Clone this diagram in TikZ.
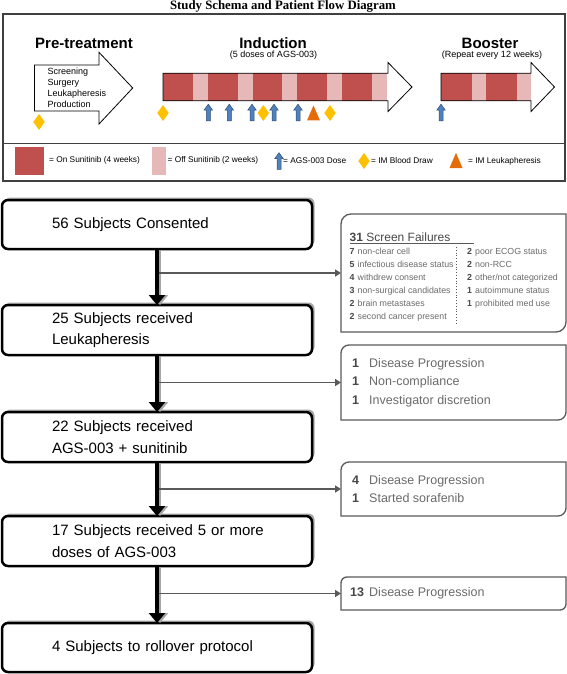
\documentclass[tikz,border=0pt]{standalone}
\usepackage{fontspec}
\setmainfont{Liberation Sans}
\newfontfamily\titlefont{Liberation Serif}
\usepackage{tikz}
\usetikzlibrary{positioning, arrows.meta, shadows}

\definecolor{onsun}{HTML}{C0504D}
\definecolor{offsun}{HTML}{E6B9B8}
\definecolor{doseblue}{HTML}{4F81BD}
\definecolor{doseedge}{HTML}{2C4D75}
\definecolor{drawyellow}{HTML}{FFC000}
\definecolor{leukorange}{HTML}{E46C0A}
\definecolor{framegray}{HTML}{404040}
\definecolor{sidegray}{HTML}{595959}
\definecolor{textgray}{HTML}{6A6A6A}
\definecolor{numgray}{HTML}{474747}

\newcommand{\cnt}[2][17pt]{\makebox[#1][l]{\textcolor{numgray}{\textbf{#2}}}}
\newcommand{\sideframe}[2]{%
  \draw[sideline] (#1.south west) -- ([yshift=-#2]#1.north west)
    arc[start angle=180, end angle=90, radius=#2] -- (#1.north east)
    -- ([yshift=#2]#1.south east)
    arc[start angle=0, end angle=-90, radius=#2] -- cycle;}

\begin{document}
\begin{tikzpicture}[x=1pt, y=-1pt,
    mainbox/.style={draw, line width=2.5pt, rounded corners=6pt, fill=white,
      minimum height=50pt, text width=210pt, inner xsep=50pt, inner ysep=0pt,
      outer sep=0pt, align=left, font=\fontsize{15}{21.7}\selectfont,
      general shadow={fill=black!35, shadow xshift=2.5pt, shadow yshift=2.5pt}},
    sidebox/.style={minimum width=225pt, inner sep=0pt, outer sep=0pt},
    sideline/.style={draw=sidegray, line width=1.3pt},
    sidetext/.style={align=left, inner sep=0pt, text=textgray,
      font=\fontsize{12.5}{18.3}\selectfont},
    sflist/.style={anchor=west, align=left, inner sep=0pt, text=textgray,
      font=\fontsize{8.8}{13}\selectfont},
    legendtext/.style={anchor=west, inner sep=0pt, font=\fontsize{8.3}{10}\selectfont},
    phasehead/.style={inner sep=0pt, font=\bfseries\fontsize{15}{17}\selectfont},
    phasenote/.style={inner sep=0pt, font=\fontsize{9}{11}\selectfont},
    phaseline/.style={draw=black, line width=0.8pt},
    flow/.style={color=black, line width=3.5pt, -{Triangle[width=16pt, length=10pt]}},
    flowshadow/.style={color=black!35, line width=2.5pt, -{Triangle[width=16pt, length=10pt]}},
    branch/.style={color=sidegray, line width=1.5pt, -{Triangle[width=7pt, length=6pt]}}]
    \tikzset{
      dosearrow/.pic={\draw[doseedge, fill=doseblue, line width=0.5pt]
        (-2,8.3) -- (-2,-2.3) -- (-4.3,-2.3) -- (0,-8.3) -- (4.3,-2.3) -- (2,-2.3) -- (2,8.3) -- cycle;},
      blooddraw/.pic={\fill[drawyellow] (0,-8) -- (5.7,0) -- (0,8) -- (-5.7,0) -- cycle;},
      leukapheresis/.pic={\fill[leukorange] (0,-7.5) -- (6.5,7.5) -- (-6.5,7.5) -- cycle;}
    }

    \useasboundingbox (0,0) rectangle (567,674);

    % TITLE
    \node[font=\titlefont\bfseries\fontsize{12.8}{14}\selectfont] (title) at (283,6.5)
      {Study Schema and Patient Flow Diagram};

    % SCHEMA FRAME
    \draw[framegray, line width=1.2pt] (3,14) rectangle (565,181);
    \draw[framegray, line width=1.2pt] (3,143.5) -- (565,143.5);

    % PHASES
    \node[phasehead] (pre) at (84,43) {Pre-treatment};
    \node[phasehead] (ind) at (273,43) {Induction};
    \node[phasenote] (indnote) at (273.5,55.5) {(5 doses of AGS-003)};
    \node[phasehead] (boost) at (490,43) {Booster};
    \node[phasenote] (boostnote) at (492,55.5) {(Repeat every 12 weeks)};

    \draw[phaseline, fill=white] (34.5,65) -- (99,65) -- (99,52.3) -- (132.7,88)
      -- (99,124) -- (99,111) -- (34.5,111) -- cycle;
    \node[phasenote, anchor=west, align=left] (pretext) at (47.3,87.5)
      {Screening\\Surgery\\Leukapheresis\\Production};

    \foreach \i in {0,...,4} {
      \fill[onsun] (163+44.8*\i,73.3) rectangle ++(29.8,27.4);
      \fill[offsun] (192.8+44.8*\i,73.3) rectangle ++(15,27.4);
    }
    \draw[phaseline] (163,73.3) -- (388,73.3) -- (388,62.5) -- (412,87)
      -- (388,111.5) -- (388,100.7) -- (163,100.7) -- cycle;

    \foreach \i in {0,1} {
      \fill[onsun] (441+45*\i,73.3) rectangle ++(30.5,27.4);
      \fill[offsun] (471.5+45*\i,73.3) rectangle ++(14.5,27.4);
    }
    \draw[phaseline] (441,73.3) -- (531,73.3) -- (531,62.5) -- (554.5,87)
      -- (531,111.5) -- (531,100.7) -- (441,100.7) -- cycle;

    % MARKERS
    \foreach \x/\y in {39/122, 163/113, 263.3/113, 330/113}
      \pic at (\x,\y) {blooddraw};
    \foreach \x in {208.3, 229.3, 252, 274, 298, 441}
      \pic at (\x,112.5) {dosearrow};
    \pic at (313.5,113) {leukapheresis};

    % LEGEND
    \fill[onsun] (15,147) rectangle (44,175);
    \node[legendtext] (lon) at (49,160.5) {= On Sunitinib (4 weeks)};
    \fill[offsun] (152,147) rectangle (166,175);
    \node[legendtext] (loff) at (167.5,160.5) {= Off Sunitinib (2 weeks)};
    \pic at (279,161) {dosearrow};
    \node[legendtext] (ldose) at (283,160.5) {= AGS-003 Dose};
    \pic at (364,161) {blooddraw};
    \node[legendtext] (lblood) at (371,160.5) {= IM Blood Draw};
    \pic at (456,160.5) {leukapheresis};
    \node[legendtext] (lleuk) at (468,161) {= IM Leukapheresis};

    % SUBJECTS
    \node[mainbox, minimum height=49pt] (b1) at (157,224.5) {\mbox{56 Subjects Consented}};
    \node[mainbox] (b2) [below=56pt of b1] {\mbox{25 Subjects received}\\\mbox{Leukapheresis}};
    \node[mainbox] (b3) [below=57pt of b2] {\mbox{22 Subjects received}\\\mbox{AGS-003 + sunitinib}};
    \node[mainbox] (b4) [below=54pt of b3] {\mbox{17 Subjects received 5 or more}\\\mbox{doses of AGS-003}};
    \node[mainbox, minimum height=49pt] (b5) [below=57pt of b4] {\mbox{4 Subjects to rollover protocol}};

    % DROP-OUTS
    \node[sidebox, minimum height=118pt] (s1) at (453.5,273) {};
    \sideframe{s1}{10pt}
    \node[anchor=west, inner sep=0pt, text=numgray, font=\fontsize{12}{14}\selectfont]
      (sfhead) at (349.5,237) {\textbf{31} Screen Failures};
    \draw[sidegray, line width=1pt] (350,243.5) -- (474,243.5);
    \node[sflist] (sfleft) at (349.5,284.5) {\cnt[8pt]{7}non-clear cell\\
      \cnt[8pt]{5}infectious disease status\\ \cnt[8pt]{4}withdrew consent\\
      \cnt[8pt]{3}non-surgical candidates\\ \cnt[8pt]{2}brain metastases\\
      \cnt[8pt]{2}second cancer present};
    \node[sflist] (sfright) at (467,278) {\cnt[8pt]{2}poor ECOG status\\
      \cnt[8pt]{2}non-RCC\\ \cnt[8pt]{2}other/not categorized\\
      \cnt[8pt]{1}autoimmune status\\ \cnt[8pt]{1}prohibited med use};
    \draw[sidegray, dotted, line width=0.8pt] (456,247) -- (456,323);

    \node[sidebox, minimum height=75pt] (s2) at (453.5,382.5) {};
    \sideframe{s2}{8pt}
    \node[sidetext] (s2txt) [right=11pt of s2.west] {\cnt{1}Disease Progression\\
      \cnt{1}Non-compliance\\ \cnt{1}Investigator discretion};

    \node[sidebox, minimum height=54pt] (s3) at (453.5,489) {};
    \sideframe{s3}{8pt}
    \node[sidetext] (s3txt) [right=11pt of s3.west] {\cnt{4}Disease Progression\\
      \cnt{1}Started sorafenib};

    \node[sidebox, minimum height=33pt] (s4) at (453.5,593.5) {};
    \sideframe{s4}{6pt}
    \node[sidetext] (s4txt) [right=9pt of s4.west] {\cnt[19pt]{13}Disease Progression};

    % TRANSITIONS
    \path[flowshadow]
        ([xshift=3pt, yshift=-1.3pt]b1.south) edge ([xshift=3pt]b2.north)
        ([xshift=3pt, yshift=-1.3pt]b2.south) edge ([xshift=3pt]b3.north)
        ([xshift=3pt, yshift=-1.3pt]b3.south) edge ([xshift=3pt]b4.north)
        ([xshift=3pt, yshift=-1.3pt]b4.south) edge ([xshift=3pt]b5.north);
    \path[branch]
        (b1.south |- s1.west) edge (s1)
        (b2.south |- s2.west) edge (s2)
        (b3.south |- s3.west) edge (s3)
        (b4.south |- s4.west) edge (s4);
    \path[flow]
        (b1) edge (b2)
        (b2) edge (b3)
        (b3) edge (b4)
        (b4) edge (b5);

\end{tikzpicture}
\end{document}
